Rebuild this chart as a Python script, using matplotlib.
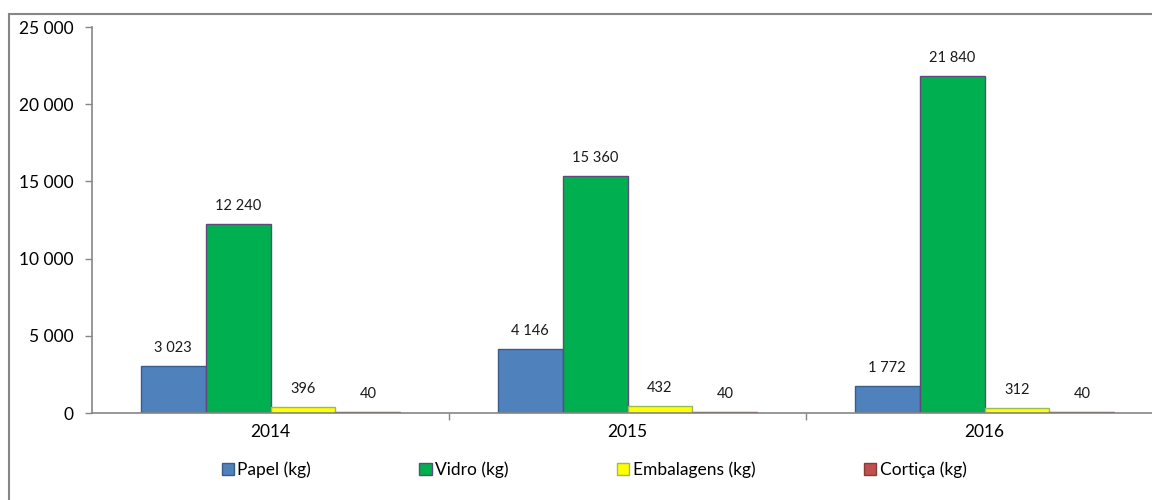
import numpy as np
import matplotlib.pyplot as plt
from matplotlib.patches import Rectangle, Patch

plt.rcParams['font.family'] = ['Lato', 'DejaVu Sans']

years = ["2014", "2015", "2016"]
series = ["Papel (kg)", "Vidro (kg)", "Embalagens (kg)", "Cortiça (kg)"]
papel = [3023, 4146, 1772]
vidro = [12240, 15360, 21840]
embalagens = [396, 432, 312]
cortica = [40, 40, 40]

fills = ["#4F81BD", "#00B050", "#FFFF00", "#C0504D"]
edges = ["#385D8A", "#604A7B", "#9BBB59", "#8C3836"]


def fmt(v):
    return f"{v:,.0f}".replace(",", " ")


fig = plt.figure(figsize=(11.52, 5.0), dpi=100)
ax = fig.add_axes([92 / 1152, 1 - 413 / 500, (1163 - 92) / 1152, (413 - 27) / 500])

x = np.arange(len(years))
w = 0.182
for i, vals in enumerate([papel, vidro, embalagens, cortica]):
    pos = x + (i - 1.5) * w
    ax.bar(pos, vals, width=w, color=fills[i], edgecolor=edges[i],
           linewidth=1.0, label=series[i], zorder=2)
    for px, v in zip(pos, vals):
        ax.annotate(fmt(v), (px, v), xytext=(0, 8), textcoords="offset points",
                    ha="center", va="bottom", fontsize=10.5, color="#1a1a1a")

ax.set_xlim(-0.5, 2.5)
ax.set_ylim(0, 25000)
ax.set_yticks(np.arange(0, 25001, 5000))
ax.set_yticklabels([fmt(v) for v in np.arange(0, 25001, 5000)])

# category labels between boundary ticks
ax.set_xticks([0.5, 1.5])
ax.set_xticklabels([])
ax.set_xticks(x, minor=True)
ax.set_xticklabels(years, minor=True)
ax.tick_params(axis="x", which="major", length=5, color="#868686", width=1)
ax.tick_params(axis="x", which="minor", length=0, pad=8, labelsize=12.5)
ax.tick_params(axis="y", length=5, color="#868686", width=1, pad=8, labelsize=12.5)

for s in ["top", "right"]:
    ax.spines[s].set_visible(False)
for s in ["left", "bottom"]:
    ax.spines[s].set_color("#868686")
    ax.spines[s].set_linewidth(1.2)

handles = [Patch(facecolor=fills[i], edgecolor=edges[i], linewidth=1.0) for i in range(4)]
fig.legend(handles, series, loc="center", bbox_to_anchor=(594 / 1152, 1 - 470 / 500),
           ncol=4, frameon=False, fontsize=12.5, handlelength=0.7, handleheight=0.7,
           handletextpad=0.2, columnspacing=6.25)

# outer chart frame
fig.patches.append(Rectangle((8.5 / 1152, -0.02), 1.05, 1.02 - 14 / 500,
                             transform=fig.transFigure, fill=False,
                             edgecolor="#868686", linewidth=1.5))

fig.savefig("out.png", dpi=100)
